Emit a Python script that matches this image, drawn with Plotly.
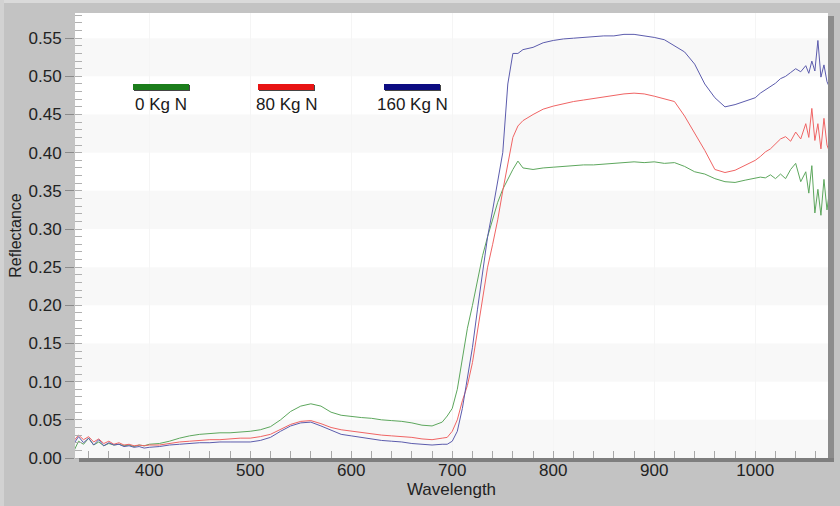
import plotly.graph_objects as go

wavelength = [325, 330, 335, 340, 345, 350, 355, 360, 365, 370, 375, 380, 385, 390, 395, 400,
              410, 420, 430, 440, 450, 460, 470, 480, 490, 500, 510, 520, 530, 540, 550, 560, 570,
              580, 590, 600, 610, 620, 630, 640, 650, 660, 670, 680, 690,
              695, 700, 705, 710, 715, 720, 725, 730, 735, 740, 745, 750, 755, 760, 765, 770,
              780, 790, 800, 810, 820, 830, 840, 850, 860, 870, 880, 890, 900, 910, 920, 930, 940,
              950, 960, 970, 980, 990, 1000,
              1005, 1010, 1015, 1020, 1025, 1030, 1035, 1040, 1045, 1050,
              1053, 1056, 1059, 1062, 1065, 1068, 1071, 1074]

refl_0kg = [0.008, 0.022, 0.018, 0.026, 0.017, 0.021, 0.016, 0.019, 0.017, 0.018, 0.016, 0.017, 0.015, 0.017, 0.016, 0.018,
            0.019, 0.022, 0.026, 0.029, 0.031, 0.032, 0.033, 0.033, 0.034, 0.035, 0.037, 0.041, 0.050, 0.061, 0.068, 0.071, 0.068,
            0.060, 0.056, 0.054, 0.053, 0.052, 0.050, 0.049, 0.048, 0.046, 0.043, 0.042, 0.047,
            0.055, 0.065, 0.090, 0.130, 0.170, 0.200, 0.235, 0.265, 0.290, 0.312, 0.335, 0.352, 0.366, 0.378, 0.389, 0.380,
            0.378, 0.380, 0.381, 0.382, 0.383, 0.384, 0.384, 0.385, 0.386, 0.387, 0.388, 0.387, 0.388, 0.386, 0.387, 0.382, 0.375,
            0.372, 0.366, 0.362, 0.361, 0.364, 0.366,
            0.368, 0.367, 0.371, 0.366, 0.372, 0.366, 0.378, 0.386, 0.362, 0.375,
            0.347, 0.383, 0.321, 0.352, 0.318, 0.365, 0.325, 0.355]

refl_80kg = [0.022, 0.030, 0.024, 0.028, 0.021, 0.025, 0.019, 0.022, 0.018, 0.020, 0.017, 0.018, 0.016, 0.017, 0.016, 0.017,
             0.017, 0.019, 0.021, 0.022, 0.023, 0.024, 0.024, 0.025, 0.026, 0.026, 0.028, 0.031, 0.038, 0.044, 0.048, 0.049, 0.045,
             0.040, 0.037, 0.035, 0.034, 0.032, 0.030, 0.029, 0.028, 0.027, 0.025, 0.024, 0.026,
             0.027, 0.035, 0.050, 0.075, 0.095, 0.125, 0.165, 0.205, 0.250, 0.280, 0.312, 0.350, 0.385, 0.420, 0.435, 0.442,
             0.450, 0.457, 0.461, 0.464, 0.467, 0.469, 0.471, 0.473, 0.475, 0.477, 0.478, 0.477, 0.474, 0.471, 0.467, 0.448, 0.425,
             0.403, 0.378, 0.374, 0.377, 0.383, 0.390,
             0.395, 0.401, 0.405, 0.412, 0.418, 0.421, 0.415, 0.427, 0.418, 0.438,
             0.420, 0.458, 0.416, 0.438, 0.405, 0.445, 0.410, 0.399]

refl_160kg = [0.018, 0.028, 0.020, 0.026, 0.017, 0.024, 0.016, 0.020, 0.017, 0.018, 0.015, 0.016, 0.014, 0.015, 0.013, 0.014,
              0.015, 0.017, 0.018, 0.019, 0.020, 0.020, 0.021, 0.021, 0.021, 0.021, 0.023, 0.027, 0.035, 0.042, 0.046, 0.047, 0.042,
              0.036, 0.031, 0.029, 0.027, 0.025, 0.023, 0.022, 0.021, 0.019, 0.018, 0.017, 0.018,
              0.018, 0.022, 0.035, 0.065, 0.105, 0.145, 0.195, 0.245, 0.290, 0.325, 0.360, 0.400, 0.490, 0.530, 0.530, 0.535,
              0.538, 0.544, 0.547, 0.549, 0.550, 0.551, 0.552, 0.553, 0.553, 0.555, 0.555, 0.553, 0.551, 0.548, 0.540, 0.532, 0.516,
              0.490, 0.472, 0.460, 0.463, 0.467, 0.472,
              0.478, 0.482, 0.486, 0.491, 0.497, 0.500, 0.505, 0.510, 0.506, 0.514,
              0.504, 0.520, 0.507, 0.547, 0.499, 0.515, 0.493, 0.484]

series_names = ["0 Kg N", "80 Kg N", "160 Kg N"]
line_colors = ["#5da75d", "#f06464", "#5c5cad"]
legend_colors = ["#1b7d1b", "#e81414", "#0c0c82"]

x_ticks = [400, 500, 600, 700, 800, 900, 1000]
y_ticks = [0.00, 0.05, 0.10, 0.15, 0.20, 0.25, 0.30, 0.35, 0.40, 0.45, 0.50, 0.55]

FONT = "Liberation Sans, Arial, sans-serif"

fig = go.Figure()
for name, vals, col in zip(series_names, [refl_0kg, refl_80kg, refl_160kg], line_colors):
    fig.add_trace(go.Scatter(x=wavelength, y=vals, mode="lines", name=name,
                             line=dict(color=col, width=1), showlegend=False))

shapes = []
# alternating horizontal bands
for i in range(0, len(y_ticks) - 1):
    if i % 2 == 0:
        shapes.append(dict(type="rect", xref="paper", yref="y", x0=0, x1=1,
                           y0=y_ticks[i], y1=y_ticks[i + 1], fillcolor="#f8f8f8",
                           line=dict(width=0), layer="below"))
W, H = 753.0, 445.0
L, T = 75.0, 13.0
# light outer border strips (top and left)
shapes.append(dict(type="rect", xref="paper", yref="paper", x0=-L / W, x1=1 + 12 / W,
                   y0=1 + (T - 3) / H, y1=1 + T / H, fillcolor="#dadada", line=dict(width=0)))
shapes.append(dict(type="rect", xref="paper", yref="paper", x0=-L / W, x1=-(L - 4) / W,
                   y0=-48 / H, y1=1 + T / H, fillcolor="#d2d2d2", line=dict(width=0)))
# shadow of the plot frame
shapes.append(dict(type="rect", xref="paper", yref="paper", x0=1.0, x1=1 + 6 / W,
                   y0=-4 / H, y1=1 - 3 / H, fillcolor="#8c8c8c", line=dict(width=0)))
shapes.append(dict(type="rect", xref="paper", yref="paper", x0=4 / W, x1=1 + 6 / W,
                   y0=-4 / H, y1=0, fillcolor="#7e7e7e", line=dict(width=0)))

annotations = []
# custom legend: sample bar above label
leg_centers = [161, 286, 412]
for name, col, cx in zip(series_names, legend_colors, leg_centers):
    x0 = (cx - 28 - L) / W
    x1 = (cx + 28 - L) / W
    shapes.append(dict(type="rect", xref="paper", yref="paper", x0=x0 + 1 / W, x1=x1 + 1 / W,
                       y0=(458 - 91) / H, y1=(458 - 85) / H, fillcolor="#444444", line=dict(width=0)))
    shapes.append(dict(type="rect", xref="paper", yref="paper", x0=x0, x1=x1,
                       y0=(458 - 90) / H, y1=(458 - 84) / H, fillcolor=col, line=dict(width=0)))
    annotations.append(dict(xref="paper", yref="paper", x=(cx - L) / W, y=(458 - 104) / H,
                            text=name, showarrow=False, xanchor="center", yanchor="middle",
                            font=dict(family=FONT, size=17, color="#1a1a1a")))

fig.update_layout(
    width=840, height=506,
    margin=dict(l=75, r=12, t=13, b=48),
    paper_bgcolor="#c3c3c3",
    plot_bgcolor="#ffffff",
    font=dict(family=FONT, size=17, color="#222222"),
    shapes=shapes,
    annotations=annotations,
    xaxis=dict(range=[326.5, 1072], tickvals=x_ticks, ticks="inside", ticklen=7,
               tickcolor="#a8a8a8", tickwidth=1, showgrid=True, gridcolor="#f5f5f5",
               zeroline=False, showline=False, automargin=False,
               minor=dict(tick0=320, dtick=20, ticks="inside", ticklen=7, tickcolor="#a8a8a8", showgrid=False),
               tickfont=dict(family=FONT, size=17, color="#222222"),
               title=dict(text="Wavelength", font=dict(family=FONT, size=17, color="#222222"), standoff=0)),
    yaxis=dict(range=[0, 0.583], tickvals=y_ticks, ticktext=[f"{v:.2f}" for v in y_ticks],
               ticks="outside", ticklen=9, tickcolor="#8a8a8a", tickwidth=1,
               showgrid=False, zeroline=False, showline=False, automargin=False,
               minor=dict(dtick=0.01, ticks="inside", ticklen=7, tickcolor="#b0b0b0", showgrid=False),
               tickfont=dict(family=FONT, size=17, color="#222222"),
               title=dict(text="Reflectance", font=dict(family=FONT, size=16, color="#222222"), standoff=2)),
)

fig.write_html("out.html", config={"displayModeBar": False},
               post_script="document.body.style.margin='0';document.body.style.overflow='hidden';")
